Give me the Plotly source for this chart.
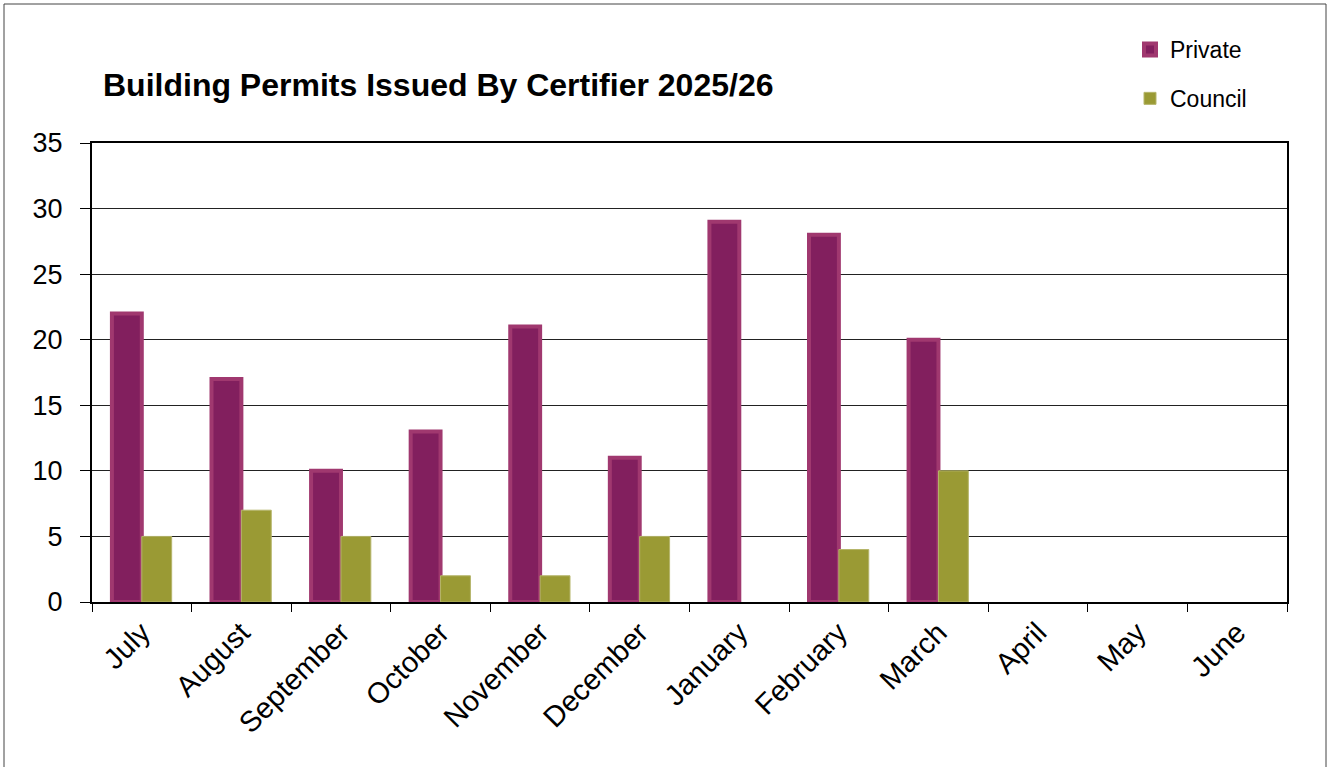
import plotly.graph_objects as go

months = ["July", "August", "September", "October", "November", "December",
          "January", "February", "March", "April", "May", "June"]
private = [22, 17, 10, 13, 21, 11, 29, 28, 20, None, None, None]
council = [5, 7, 5, 2, 2, 5, None, 4, 10, None, None, None]

W, H = 1328, 767
L, R, T, B = 92, 1287, 143, 602
pw, ph = R - L, B - T

fig = go.Figure()
fig.add_trace(go.Bar(
    x=months, y=private, name="Private", legendgroup="p",
    marker=dict(color="#821f5e", line=dict(color="#a0386f", width=4)),
))
fig.add_trace(go.Bar(
    x=months, y=council, name="Council", legendgroup="c",
    marker=dict(color="#9a9a34", line=dict(color="#b5b56a", width=1)),
))

fig.update_layout(
    width=W, height=H,
    margin=dict(l=L, r=W - R, t=T, b=H - B, pad=0),
    paper_bgcolor="white", plot_bgcolor="white",
    barmode="group", bargap=0.4, bargroupgap=0,
    font=dict(family="Liberation Sans, Arial, sans-serif", color="black"),
    title=dict(text="<b>Building Permits Issued By Certifier 2025/26</b>",
               font=dict(size=32, color="black"),
               x=(103 - L) / pw, xref="paper", xanchor="left",
               y=1 - 85 / H, yanchor="middle"),
    legend=dict(x=(1130 - L) / pw, xanchor="left", y=(B - 28) / ph, yanchor="top",
                font=dict(size=23), tracegroupgap=16, bgcolor="rgba(0,0,0,0)",
                itemwidth=30),
    showlegend=True,
)
fig.update_xaxes(
    type="category", showline=True, linecolor="black", linewidth=2, mirror=True,
    ticks="outside", ticklen=8, tickcolor="black", tickwidth=1,
    tickson="boundaries", tickangle=-45, tickfont=dict(size=29),
    showgrid=False,
)
fig.update_yaxes(
    range=[0, 35], dtick=5, showline=True, linecolor="black", linewidth=2, mirror=True,
    ticks="outside", ticklen=10, tickcolor="black", tickwidth=1,
    tickfont=dict(size=27), ticklabelstandoff=12,
    showgrid=True, gridcolor="#222222", gridwidth=1,
    zeroline=False,
)
fig.add_shape(type="rect", xref="paper", yref="paper",
              x0=(4 - L) / pw, x1=(1326 - L) / pw,
              y0=(B - 780) / ph, y1=(B - 4) / ph,
              line=dict(color="#444444", width=1), fillcolor="rgba(0,0,0,0)",
              layer="below")
fig.write_html("out.html", config={"displayModeBar": False},
               post_script="document.body.style.margin='0px';document.body.style.padding='0px';")
